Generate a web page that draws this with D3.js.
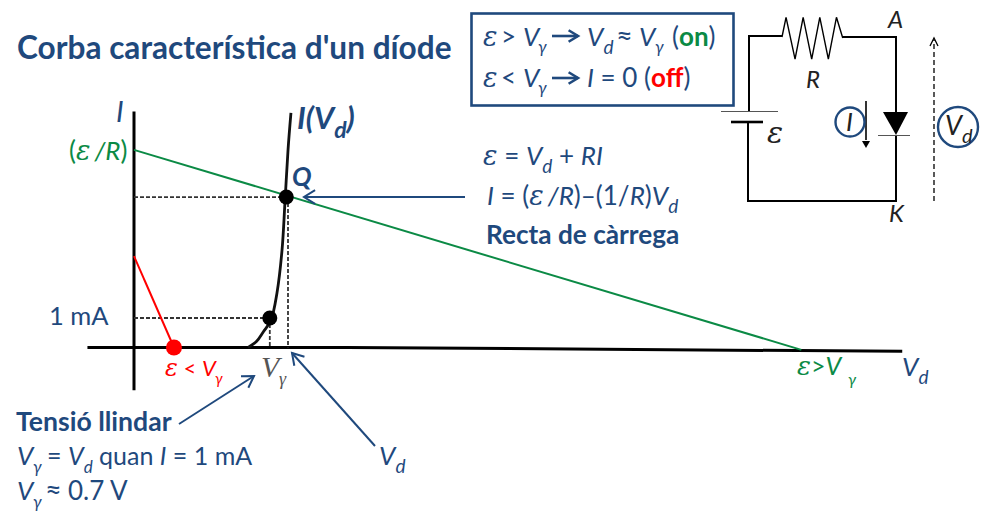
<!DOCTYPE html>
<html><head><meta charset="utf-8">
<style>html,body{margin:0;padding:0;background:#fff}svg{display:block}text{font-family:Lato,"Open Sans",sans-serif;white-space:pre}</style>
<script src="https://cdn.jsdelivr.net/npm/d3@7/dist/d3.min.js"></script>
</head><body><svg id="c" width="988" height="513"></svg>
<script>
// --- chart data (volts, mA) ---
const curveV = [0.588,0.631,0.667,0.706,0.737,0.763,0.778,0.794,0.809];
const curveI = [0,0.2,0.535,0.93,1.85,3.3,4.9,6.7,7.95];
const loadV = [0,3.44];
const loadI = [6.7,-0.08];
const offV = [0,0.206];
const offI = [3.1,0];
const baseV = [-0.24,1.1,3.96];
const baseI = [0,0,-0.13];
const yAxisI = [-1.45,8];
const pointV = [0.70,0.785];
const pointI = [1,5.1];
// --- circuit, in schematic units ---
const zigX = [0,0.9,2.9,4.7,6.6,8.4,10.3,12.1,13.5];
const zigY = [0,4.1,-4.6,4.1,-4.6,4.1,-4.6,4.1,-0.2];

const BLUE="#1f497d", GREEN="#0b8a45", RED="#ff0000", INK="#000";
const svg=d3.select("#c");
const x=d3.scaleLinear().domain([0,1]).range([134,328]);
const y=d3.scaleLinear().domain([0,1]).range([347.5,318]);
const zx=d3.scaleLinear().domain([0,1]).range([782,786.5]);
const zy=d3.scaleLinear().domain([0,1]).range([37,32.2]);
const pts=(a,b)=>a.map((v,i)=>[x(v),y(b[i])]);
const line=d3.line();
const path=(d,o)=>{const p=svg.append("path").attr("d",d).attr("fill","none");for(const k in o)p.attr(k,o[k]);return p;};

function rich(px,py,size,fill,runs){
  const t=svg.append("text").attr("x",px).attr("y",py).attr("font-size",size).attr("fill",fill);
  let shift=0;
  runs.forEach(r=>{
    const s=typeof r==="string"?{t:r}:r;
    const ts=t.append("tspan").text(s.t);
    const want=s.sub?Math.round(size*0.3):0;
    if(want!==shift){ts.attr("dy",want-shift);shift=want;}
    if(s.dx)ts.attr("dx",s.dx);
    if(s.i)ts.attr("font-style","italic");
    if(s.b)ts.attr("font-weight","bold");
    if(s.c)ts.attr("fill",s.c);
    if(s.sub)ts.attr("font-size",s.sz||size*0.8);
    if(s.es)ts.attr("font-size",s.es);
    if(s.f)ts.attr("font-family",s.f);
  });
  return t;
}
const eps=(n)=>({t:"ε",i:1,f:"'DejaVu Serif'",es:n||27});
const V={t:"V",i:1};
const d={t:"d",i:1,sub:1,sz:19};
const I={t:"I",i:1};
function gam(px,py,sz,col){rich(px,py,sz,col,[{t:"γ",i:1}]);}
function arrow(x1,y1,x2,y2,col,w,hl){
  path(line([[x1,y1],[x2,y2]]),{stroke:col,"stroke-width":w});
  const a=Math.atan2(y2-y1,x2-x1),s=0.55;
  path(line([[x2-hl*Math.cos(a-s),y2-hl*Math.sin(a-s)],[x2,y2],[x2-hl*Math.cos(a+s),y2-hl*Math.sin(a+s)]]),{stroke:col,"stroke-width":w});
}

// title
rich(17,59,31.6,BLUE,[{t:"Corba característica d'un díode",b:1}]);

// state box
svg.append("rect").attr("x",471.5).attr("y",13.5).attr("width",262).attr("height",92).attr("fill","none").attr("stroke",BLUE).attr("stroke-width",2.6);
rich(483,46,26,BLUE,[eps()]);
rich(501,46,26,BLUE,[">"]);
rich(523,46,26,BLUE,[V]);
gam(538,53,17,BLUE);
arrow(552,36,578,36,BLUE,2.6,11);
rich(587,46,26,BLUE,[V,d]);
rich(616,46,29,BLUE,["≈"]);
rich(639,46,26,BLUE,[V]);
gam(655,53,17,BLUE);
rich(672,46,26,BLUE,["(",{t:"on",b:1,c:GREEN},")"]);
rich(483,87,26,BLUE,[eps()]);
rich(501,87,26,BLUE,["<"]);
rich(523,87,26,BLUE,[V]);
gam(538,94,17,BLUE);
arrow(552,78,578,78,BLUE,2.6,11);
rich(587,87,26,BLUE,[I," = 0 (",{t:"off",b:1,c:RED},")"]);

// circuit
const zig=zigX.map((v,i)=>[zx(v),zy(zigY[i])]);
path(line(zig),{stroke:INK,"stroke-width":1.4});
const wire={stroke:INK,"stroke-width":2};
path(line([[zig[0][0],36],[749,36],[749,111]]),wire);
path(line([[zig[8][0],37],[896,37],[896,112]]),wire);
path(line([[896,135],[896,201],[748,201],[748,122]]),wire);
path(line([[721,111.5],[778,111.5]]),{stroke:"#555","stroke-width":1});
path(line([[731,122],[763,122]]),{stroke:INK,"stroke-width":2.6});
path(line([[883,112],[908,112],[896,135]])+"Z",{fill:INK});
path(line([[878,135.5],[910,135.5]]),{stroke:"#555","stroke-width":1});
path(line([[866,101],[866,140]]),{stroke:INK,"stroke-width":1.6});
path(line([[862,141],[870,141],[866,148]])+"Z",{fill:INK});
path(line([[934,201],[934,40]]),{stroke:INK,"stroke-width":1.3,"stroke-dasharray":"5 3"});
path(line([[930,46],[934,38],[938,46]]),{stroke:INK,"stroke-width":1.3});
[[850,122,14.5],[958,127,20]].forEach(c=>svg.append("circle").attr("cx",c[0]).attr("cy",c[1]).attr("r",c[2]).attr("fill","none").attr("stroke",BLUE).attr("stroke-width",2.4));
const CI="#222";
rich(888,28,24,CI,[{t:"A",i:1}]);
rich(806,88,24,CI,[{t:"R",i:1}]);
rich(767,143,30,CI,[eps(30)]);
rich(846,131,26,CI,[I]);
rich(889,222,24,CI,[{t:"K",i:1}]);
rich(945,135,27,CI,[V,{t:"d",i:1,sub:1,sz:20}]);

// axes
path(line(pts([0,0],yAxisI)),{stroke:INK,"stroke-width":3});
path(line(pts(baseV,baseI)),{stroke:INK,"stroke-width":3});
// guides
const dash={stroke:"#333","stroke-width":1.8,"stroke-dasharray":"4 2"};
path(line([[x(0),y(pointI[1])],[x(pointV[1]),y(pointI[1])]]),dash);
path(line([[x(0),y(pointI[0])],[x(pointV[0]),y(pointI[0])]]),dash);
path(line([[288,y(pointI[1])],[288,y(0)]]),dash);
path(line([[x(pointV[0]),y(pointI[0])],[x(pointV[0]),y(0)]]),dash);
// curve and load lines
path(d3.line().curve(d3.curveCatmullRom)(pts(curveV,curveI)),{stroke:"#111","stroke-width":2.8});
path(line(pts(loadV,loadI)),{stroke:GREEN,"stroke-width":2});
path(line(pts(offV,offI)),{stroke:RED,"stroke-width":2});
// points
pointV.forEach((v,i)=>svg.append("circle").attr("cx",x(v)).attr("cy",y(pointI[i])).attr("r",7.5).attr("fill","#000"));
svg.append("circle").attr("cx",x(offV[1])).attr("cy",y(0)).attr("r",8).attr("fill",RED);

// graph labels
rich(116,122,29,BLUE,[I]);
rich(297,129,31,BLUE,[{t:"I(V",i:1,b:1},{t:"d",i:1,b:1,sub:1,sz:23},{t:")",i:1,b:1}]);
rich(292,186,26,BLUE,[{t:"Q",i:1,b:1}]);
rich(69,160,26,GREEN,["(",eps(),{t:"/R",i:1,dx:4},")"]);
rich(49,325,25.5,BLUE,["1 mA"]);
rich(165,376,22,RED,[eps(24)," < ",V]);
gam(215,384,15,RED);
rich(261,377,30,"#555",[{t:"V",i:1,f:"'Liberation Serif'"}]);
rich(279,385,18,"#555",[{t:"γ",i:1,f:"'Liberation Serif'"}]);
rich(797,375,25,GREEN,[eps(26),">",V]);
gam(848,385,16,GREEN);
rich(902,376,26,BLUE,[V,d]);

// equations
rich(483,165,26,BLUE,[eps()," = ",V,d," + ",{t:"RI",i:1}]);
rich(487,205,26,BLUE,[I," = (",eps(),{t:"/R",i:1,dx:4},")–(1/",{t:"R",i:1},")",V,d]);
rich(486,244,26.2,BLUE,[{t:"Recta de càrrega",b:1}]);
arrow(465,197,304,197,BLUE,2,13);

// threshold notes
rich(16,431,26.6,BLUE,[{t:"Tensió llindar",b:1}]);
rich(17,465,26,BLUE,[V]);
gam(33,473,17,BLUE);
rich(47,465,25,BLUE,["= ",V,{t:"d",i:1,sub:1,sz:17}," quan ",I," = 1 mA"]);
rich(17,500,26,BLUE,[V]);
gam(33,508,17,BLUE);
rich(45,500,29,BLUE,["≈"]);
rich(68,500,26,BLUE,["0.7 V"]);
rich(379,465,26,BLUE,[V,d]);
arrow(179,424,254,376,BLUE,2,13);
arrow(375,446,292,353,BLUE,2,13);
</script></body></html>
